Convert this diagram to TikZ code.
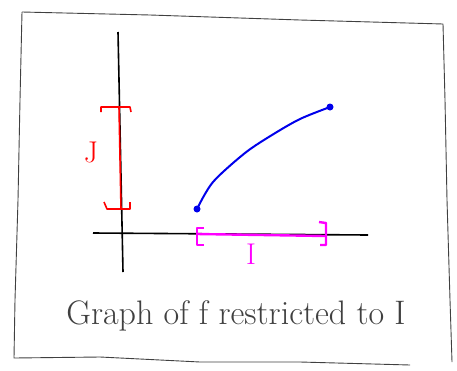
\documentclass[tikz,border=0pt]{standalone}
\usepackage{tikz}
\usetikzlibrary{positioning}
\definecolor{brightmagenta}{RGB}{255,0,255}
\definecolor{penblue}{RGB}{0,0,235}

\begin{document}
\begin{tikzpicture}[x=1pt,y=-1pt]
    \useasboundingbox (0,0) rectangle (457,370);

    % Frame
    \draw[black!75, line width=0.9pt, line join=round]
        (22,12) -- (150,15) -- (300,20) -- (443,24)
        -- (445,100) -- (447,200) -- (450,300) -- (452,362);
    \draw[black!75, line width=0.9pt, line join=round]
        (22,12) -- (20,100) -- (18,200) -- (15,300) -- (14,358)
        -- (100,357) -- (200,362) -- (300,362) -- (410,365);

    % Axes
    \draw[black, line width=1.6pt] (118,32) -- (123,272);
    \draw[black, line width=1.6pt] (93,233) -- (368,235);

    % Interval J (red)
    \draw[red, line width=1.6pt, line join=round] (101,112) -- (101,107) -- (130,107) -- (131,112);
    \draw[red, line width=1.6pt] (119,107) -- (121,209);
    \draw[red, line width=1.6pt, line join=round] (104,202) -- (107,209) -- (130,209) -- (130,202);
    \node[red, anchor=base, font=\fontsize{30}{32}\selectfont] (labJ) at (91,162) {J};

    % Graph of f (blue)
    \draw[penblue, line width=2pt, line cap=round]
        plot[smooth] coordinates {(197,209) (213,182) (245,153) (272,135) (300,119) (330,107)};
    \fill[penblue] (197,209) circle (3.5pt);
    \fill[penblue] (330,107) circle (3.5pt);

    % Interval I (magenta)
    \draw[brightmagenta, line width=2.4pt] (197,234) -- (325,236);
    \draw[brightmagenta, line width=2.4pt, line join=round] (204,228) -- (197,228) -- (197,245) -- (204,245);
    \draw[brightmagenta, line width=2.4pt, line join=round] (319,222) -- (326,223) -- (326,245) -- (320,245);
    \node[brightmagenta, anchor=base, font=\fontsize{30}{32}\selectfont] (labI) at (251,264) {I};

    % Caption
    \node[black!75, anchor=base, font=\fontsize{34}{36}\selectfont] (caption) at (236,324) {Graph of f restricted to I};
\end{tikzpicture}
\end{document}
